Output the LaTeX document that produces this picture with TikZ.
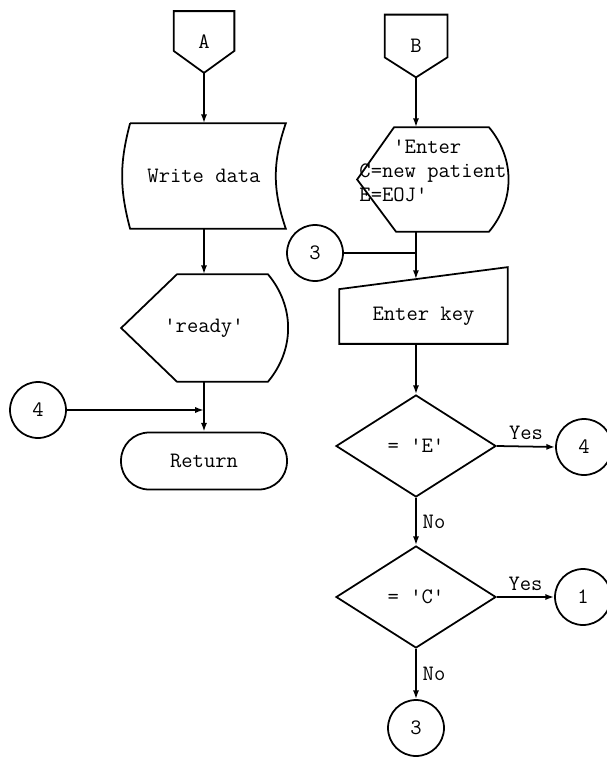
\documentclass[tikz,border=0pt]{standalone}
\usepackage{fontspec}
\usetikzlibrary{shapes.geometric,calc,arrows.meta}

\begin{document}
\begin{tikzpicture}[x=0.02cm, y=0.02cm, line width=1pt,
	txt/.style={font=\ttfamily\fontsize{12.5}{13.6}\selectfont},
	conn/.style={circle, draw, txt, minimum size=1.12cm, inner sep=0pt},
	decision/.style={diamond, draw, txt, minimum width=3.2cm, minimum height=2.04cm, inner sep=0pt},
	flow/.style={-{Latex[length=5pt,width=3.5pt]}}]
	
	\useasboundingbox (0,0) rectangle (607,-757);
	
	% Left column
	\node[txt, minimum width=1.18cm, minimum height=1.2cm, inner sep=0pt] (A) at (204,-42) {A};
	\node[txt, minimum width=3.24cm, minimum height=2.08cm, inner sep=0pt] (wd) at (204,-176) {Write data};
	\node[txt, minimum width=3.28cm, minimum height=2.12cm, inner sep=0pt] (rdy) at (204,-328) {'ready'};
	\node[txt, draw, rounded corners=0.56cm, minimum width=3.32cm, minimum height=1.14cm, inner sep=0pt] (ret) at (204,-461) {Return};
	\node[conn] (c4L) at (38,-410) {4};
	
	% Right column
	\node[txt, minimum width=1.22cm, minimum height=1.22cm, inner sep=0pt] (B) at (416,-46) {B};
	\node[txt, align=left, text depth=10pt, minimum width=3cm, minimum height=2.06cm, inner sep=0pt] (disp) at (433,-179.5)
	{\phantom{C=n}'Enter\\C=new patient\\E=EOJ'};
	\node[txt, minimum width=3.34cm, minimum height=1.06cm, inner sep=0pt] (key) at (423.5,-316.5) {Enter key};
	\node[conn] (c3R) at (315,-253) {3};
	\node[decision] (dE) at (416,-446) {= 'E'};
	\node[decision] (dC) at (416,-597) {= 'C'};
	\node[conn] (c4R) at (584,-447) {4};
	\node[conn] (c1) at (583,-597) {1};
	\node[conn] (c3B) at (416,-728) {3};
	
	% Outlines
	\draw (A.north west) -- (A.north east) -- ($(A.south east)+(0,22)$) -- (A.south) -- ($(A.south west)+(0,22)$) -- cycle;
	\draw (B.north west) -- (B.north east) -- ($(B.south east)+(0,20)$) -- (B.south) -- ($(B.south west)+(0,20)$) -- cycle;
	\draw ($(wd.north west)+(8,0)$) -- (wd.north east) to[bend right=19] (wd.south east)
	-- ($(wd.south west)+(8,0)$) to[bend left=15] ($(wd.north west)+(8,0)$);
	\draw (rdy.west) -- ($(rdy.north west)+(56,0)$) -- ($(rdy.north east)+(-19,0)$) to[bend left=40]
	($(rdy.south east)+(-19,0)$) -- ($(rdy.south west)+(56,0)$) -- cycle;
	\draw (disp.west) -- ($(disp.north west)+(37,0)$) -- ($(disp.north east)+(-20,0)$) to[bend left=40]
	($(disp.south east)+(-20,0)$) -- ($(disp.south west)+(39,0)$) -- cycle;
	\coordinate (keytr) at ($(key.north east)+(0,22)$);
	\draw (key.south west) -- (key.north west) -- (keytr) -- (key.south east) -- cycle;
	\coordinate (keyin) at ($(key.north west)!0.455!(keytr)$);
	
	% Connectors
	\draw[flow] (A.south) -- (wd.north);
	\draw[flow] (wd.south) -- (rdy.north);
	\draw[flow] (rdy.south) -- (ret.north);
	\draw[flow] (c4L.east) -- (c4L.east -| ret.north);
	
	\draw[flow] (B.south) -- (B.south |- disp.north);
	\draw[flow] (B.south |- disp.south) -- (keyin);
	\draw (c3R.east) -- (c3R.east -| keyin);
	\draw[flow] (keyin |- key.south) -- (dE.north);
	\draw[flow] (dE.east) -- node[txt, above] {Yes} (c4R.west);
	\draw[flow] (dE.south) -- node[txt, right] {No} (dC.north);
	\draw[flow] (dC.east) -- node[txt, above] {Yes} (c1.west);
	\draw[flow] (dC.south) -- node[txt, right] {No} (c3B.north);
	
\end{tikzpicture}
\end{document}
